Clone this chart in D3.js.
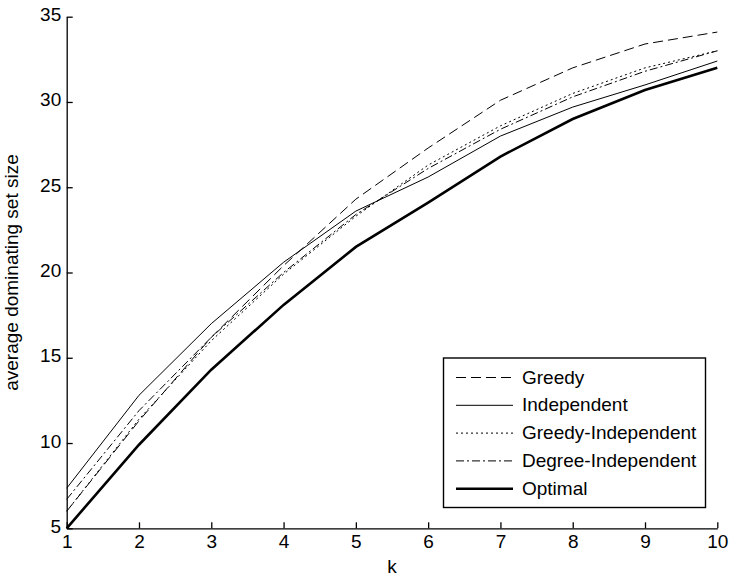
<!DOCTYPE html>
<html>
	<head>
		<meta charset=utf-8>
		<title>Dominating set size</title>
		<style type="text/css">
			body { margin: 0; background: #fff; }
			svg text { font-family: "Liberation Sans", Arial, Helvetica, sans-serif; fill: #000; }
			.axis path, .axis line { stroke: #000; stroke-width: 1.3; }
		</style>
		<script src="https://cdnjs.cloudflare.com/ajax/libs/d3/7.8.5/d3.min.js"></script>
	</head>
	<body>
		<script>
			// values
			var kValues = [1, 2, 3, 4, 5, 6, 7, 8, 9, 10];
			var yTicks = [5, 10, 15, 20, 25, 30, 35];

			var greedy            = [6.0, 11.3, 16.2, 20.4, 24.3, 27.3, 30.1, 32.0, 33.4, 34.1];
			var independent       = [7.35, 12.8, 17.0, 20.6, 23.6, 25.6, 28.0, 29.7, 31.0, 32.4];
			var greedyIndependent = [6.0, 11.4, 16.0, 19.9, 23.3, 26.3, 28.6, 30.5, 32.0, 33.0];
			var degreeIndependent = [6.7, 11.9, 16.2, 20.0, 23.4, 26.1, 28.4, 30.3, 31.8, 33.0];
			var optimal           = [5.0, 9.9, 14.3, 18.1, 21.5, 24.1, 26.8, 29.0, 30.7, 32.0];

			var seriesNames = ["Greedy", "Independent", "Greedy-Independent", "Degree-Independent", "Optimal"];
			var seriesValues = [greedy, independent, greedyIndependent, degreeIndependent, optimal];

			// line styles for each series
			var dashes = ["10,5", null, "2,3", "8,3,2,3", null];
			var widths = [1, 1, 1, 1, 2.6];

			var width = 730, height = 579;
			var fontSize = 19;

			var svg = d3.select("body")
				.append("svg")
				.attr("width", width)
				.attr("height", height);

			//scales
			var x = d3.scaleLinear()
				.domain([1, 10])
				.range([66.7, 717.3]);

			var y = d3.scaleLinear()
				.domain([5, 35])
				.range([528.3, 16.7]);

			//x axis, ticks pointing inwards
			var xAxis = svg.append("g")
				.attr("class", "axis")
				.attr("transform", "translate(0," + y(5) + ")")
				.call(d3.axisBottom(x).tickValues(kValues).tickSize(-6).tickSizeOuter(0).tickFormat(d3.format("d")));

			xAxis.selectAll("text")
				.attr("y", 20)
				.attr("dy", null)
				.style("font-size", fontSize + "px");

			//y axis
			var yAxis = svg.append("g")
				.attr("class", "axis")
				.attr("transform", "translate(" + x(1) + ",0)")
				.call(d3.axisLeft(y).tickValues(yTicks).tickSize(-6).tickSizeOuter(0));

			yAxis.selectAll("text")
				.attr("x", -5.5)
				.attr("y", 4)
				.attr("dy", null)
				.style("font-size", fontSize + "px");

			svg.selectAll(".axis .domain").attr("fill", "none");

			//lines
			var line = d3.line()
				.x(function(d, i) { return x(kValues[i]); })
				.y(function(d) { return y(d); });

			seriesValues.forEach(function(vals, i) {
				svg.append("path")
					.attr("d", line(vals))
					.style("fill", "none")
					.style("stroke", "#000")
					.style("stroke-width", widths[i])
					.style("stroke-dasharray", dashes[i]);
			});

			//axis labels
			svg.append("text")
				.attr("x", x(5.5))
				.attr("y", 573)
				.style("font-size", fontSize + "px")
				.style("text-anchor", "middle")
				.text("k");

			svg.append("text")
				.attr("transform", "translate(18," + ((y(5) + y(35)) / 2) + ") rotate(-90)")
				.style("font-size", fontSize + "px")
				.style("text-anchor", "middle")
				.text("average dominating set size");

			//legend
			var legend = svg.append("g");

			legend.append("rect")
				.attr("x", 443.5)
				.attr("y", 358)
				.attr("width", 262)
				.attr("height", 149.5)
				.style("fill", "#fff")
				.style("stroke", "#000")
				.style("stroke-width", 1.4);

			seriesNames.forEach(function(name, i) {
				var ly = 377.5 + i * 27.8;
				legend.append("line")
					.attr("x1", 456)
					.attr("x2", 513)
					.attr("y1", ly)
					.attr("y2", ly)
					.style("stroke", "#000")
					.style("stroke-width", widths[i])
					.style("stroke-dasharray", dashes[i]);
				legend.append("text")
					.attr("x", 522)
					.attr("y", ly + 6)
					.style("font-size", fontSize + "px")
					.text(name);
			});
		</script>
	</body>
</html>
